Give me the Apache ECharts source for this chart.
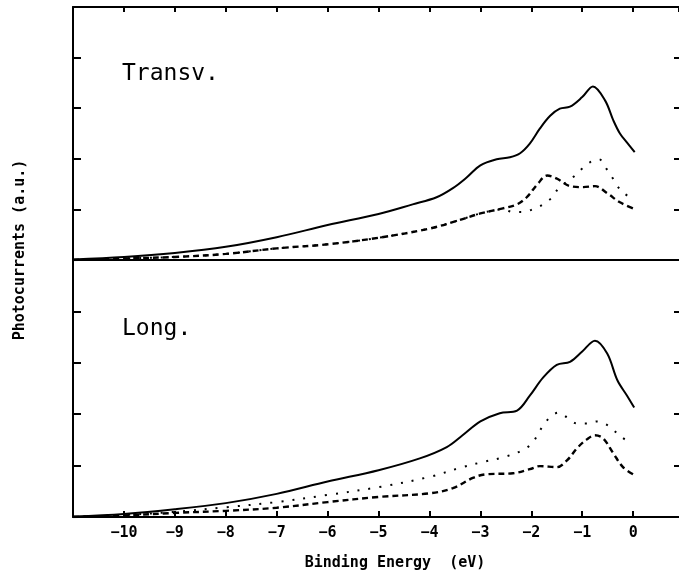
<!DOCTYPE html>
<html><head><meta charset="utf-8">
<script src="https://cdn.jsdelivr.net/npm/echarts@6/dist/echarts.min.js"></script>
<style>html,body{margin:0;padding:0;background:#fff}#c{width:679px;height:575px}</style>
</head><body><div id="c"></div>
<script>
// ---- data (Binding energy in eV, photocurrent in a.u.) ----
const xTickLabels = [-10,-9,-8,-7,-6,-5,-4,-3,-2,-1,0];

const transvSolidX = [-11,-10,-9,-8,-7,-6,-5,-4.33,-3.86,-3.54,-3.27,-3.0,-2.68,-2.42,-2.22,-2.03,-1.83,-1.63,-1.44,-1.24,-1.0,-0.79,-0.55,-0.39,-0.26,-0.12,0.03];
const transvSolidY = [0.01,0.06,0.14,0.26,0.45,0.69,0.91,1.10,1.24,1.42,1.63,1.87,1.99,2.03,2.11,2.30,2.60,2.85,2.99,3.03,3.22,3.43,3.15,2.76,2.50,2.32,2.13];

const transvDashX = [-11,-10,-9,-8,-7,-6,-5,-4,-3.41,-3.0,-2.56,-2.28,-2.09,-1.87,-1.69,-1.5,-1.24,-0.98,-0.75,-0.51,-0.26,0];
const transvDashY = [0.0,0.03,0.06,0.12,0.23,0.31,0.44,0.62,0.79,0.92,1.02,1.10,1.24,1.51,1.67,1.61,1.46,1.44,1.46,1.32,1.14,1.02];

const transvDotX = [-11,-10,-9,-8,-7,-6,-5,-4,-3.41,-3.0,-2.56,-2.36,-2.17,-1.93,-1.77,-1.59,-1.47,-1.14,-1.0,-0.85,-0.67,-0.53,-0.41,-0.31,-0.18,0];
const transvDotY = [0.0,0.03,0.06,0.12,0.23,0.31,0.44,0.62,0.79,0.92,1.0,0.95,0.95,1.02,1.10,1.24,1.41,1.67,1.81,1.93,1.99,1.81,1.63,1.46,1.32,1.2];

const longSolidX = [-11,-10,-9,-8,-7,-6,-5,-4.19,-3.66,-3.35,-3.0,-2.62,-2.28,-2.03,-1.77,-1.5,-1.24,-1.0,-0.75,-0.51,-0.31,-0.12,0.02];
const longSolidY = [0.01,0.06,0.15,0.27,0.45,0.69,0.91,1.14,1.36,1.59,1.86,2.02,2.07,2.36,2.71,2.96,3.02,3.22,3.43,3.18,2.66,2.36,2.13];

const longDotX = [-11,-10,-9,-8,-7,-6,-5,-4,-3.35,-2.95,-2.56,-2.17,-1.99,-1.87,-1.77,-1.63,-1.47,-1.3,-1.1,-0.91,-0.71,-0.53,-0.39,-0.22,-0.04];
const longDotY = [0.0,0.04,0.10,0.19,0.29,0.43,0.58,0.78,0.97,1.07,1.16,1.30,1.43,1.61,1.78,1.94,2.03,1.94,1.82,1.82,1.86,1.80,1.69,1.55,1.43];

const longDashX = [-11,-10,-9,-8,-7,-6,-5,-4,-3.54,-3.15,-2.9,-2.36,-2.03,-1.83,-1.5,-1.3,-1.1,-0.91,-0.75,-0.59,-0.39,-0.2,0];
const longDashY = [0.0,0.03,0.08,0.12,0.18,0.29,0.39,0.46,0.56,0.76,0.83,0.85,0.93,0.99,0.97,1.10,1.34,1.51,1.59,1.53,1.24,0.97,0.83];

const panelLabels = ['Transv.', 'Long.'];
const xTitle = 'Binding Energy  (eV)';
const yTitle = 'Photocurrents (a.u.)';

// ---- build ----
const pairs = (xs, ys) => xs.map((x, i) => [x, ys[i]]);
const FONT = 'DejaVu Sans Mono';
const axisLine = {show: true, onZero: false, lineStyle: {color: '#000', width: 2}};

function xAx(gridIndex, position, showTicks, showLabels, tickLen) {
  return {
    type: 'value', gridIndex, position, min: -11, max: 0.9, interval: 1,
    axisLine, splitLine: {show: false},
    axisTick: {show: showTicks, inside: true, length: tickLen, lineStyle: {color: '#000', width: 2}},
    axisLabel: {show: showLabels, color: '#000', fontFamily: FONT, fontSize: 15, fontWeight: 'bold', margin: 9,
      showMinLabel: false, showMaxLabel: false,
      formatter: v => (xTickLabels.indexOf(v) >= 0 ? String(v).replace('-', '\u2212') : '')}
  };
}
function yAx(gridIndex, position, showLine, tickLen) {
  return {
    type: 'value', gridIndex, position, min: 0, max: 5, interval: 1,
    axisLine: {show: showLine, onZero: false, lineStyle: {color: '#000', width: 2}},
    splitLine: {show: false},
    axisTick: {show: true, inside: true, length: tickLen, lineStyle: {color: '#000', width: 2}},
    axisLabel: {show: false}
  };
}
function line(name, xs, ys, gi, type, width) {
  return {
    name, type: 'line', xAxisIndex: gi * 2, yAxisIndex: gi * 2,
    data: pairs(xs, ys), smooth: 0.35, symbol: 'none',
    lineStyle: {color: '#000', width, type}
  };
}

const option = {
  animation: false,
  backgroundColor: '#fff',
  grid: [
    {left: 73, right: 0, top: 7, height: 253},
    {left: 73, right: 0, top: 260, height: 257}
  ],
  xAxis: [
    xAx(0, 'top', true, false, 5),
    xAx(0, 'bottom', false, false, 0),
    xAx(1, 'bottom', true, true, 6),
    xAx(1, 'top', false, false, 0)
  ],
  yAxis: [
    yAx(0, 'left', true, 8), yAx(0, 'right', false, 5),
    yAx(1, 'left', true, 8), yAx(1, 'right', false, 5)
  ],
  series: [
    line('Transv. total', transvSolidX, transvSolidY, 0, 'solid', 2),
    line('Transv. dashed', transvDashX, transvDashY, 0, [6, 4], 2.4),
    line('Transv. dotted', transvDotX, transvDotY, 0, [2, 9], 2),
    line('Long. total', longSolidX, longSolidY, 1, 'solid', 2),
    line('Long. dashed', longDashX, longDashY, 1, [6, 4], 2.4),
    line('Long. dotted', longDotX, longDotY, 1, [2, 9], 2)
  ],
  graphic: [
    {type: 'text', left: 122, top: 63, style: {text: panelLabels[0], font: '23px "DejaVu Sans Mono"', fill: '#000'}},
    {type: 'text', left: 122, top: 318, style: {text: panelLabels[1], font: '23px "DejaVu Sans Mono"', fill: '#000'}},
    {type: 'text', x: 395, y: 563, style: {text: xTitle, font: 'bold 15px "DejaVu Sans Mono"', fill: '#000', align: 'center', verticalAlign: 'middle'}},
    {type: 'text', x: 20, y: 250, rotation: Math.PI / 2, style: {text: yTitle, font: 'bold 15px "DejaVu Sans Mono"', fill: '#000', align: 'center', verticalAlign: 'middle'}}
  ]
};
const chart = echarts.init(document.getElementById('c'), null, {renderer: 'canvas'});
chart.setOption(option);
</script></body></html>
